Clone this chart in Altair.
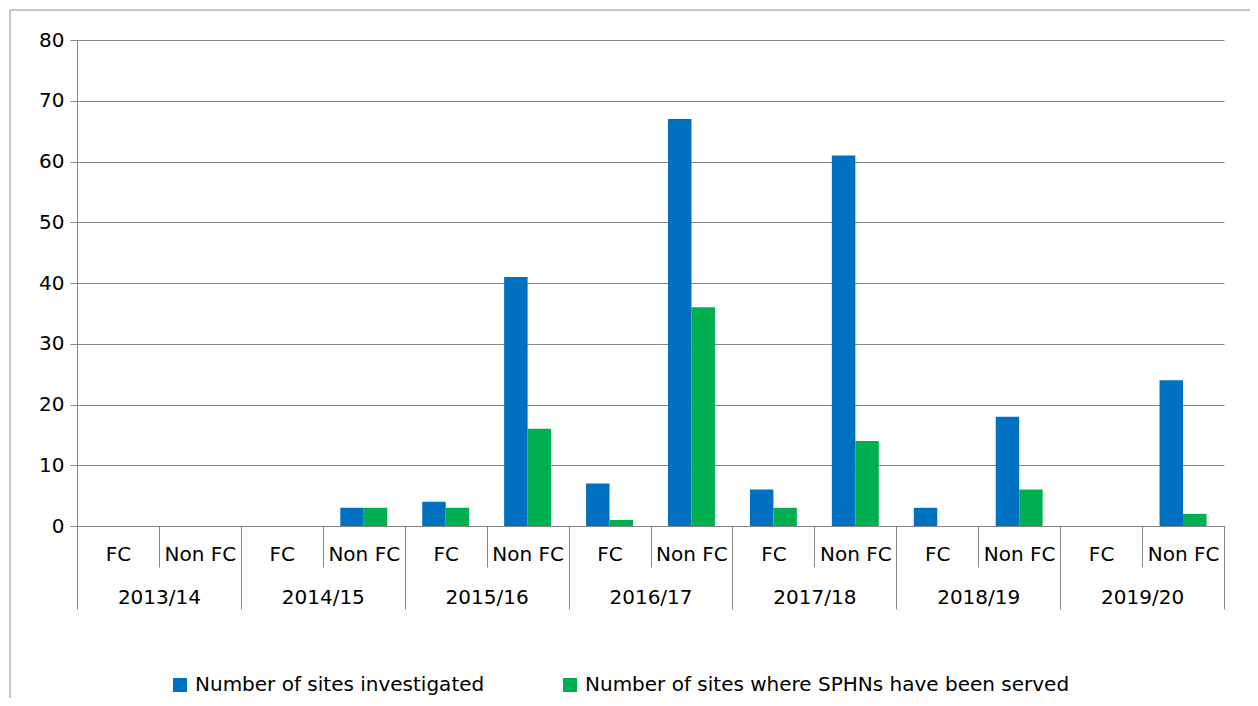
import altair as alt
import pandas as pd

years = ["2013/14", "2014/15", "2015/16", "2016/17", "2017/18", "2018/19", "2019/20"]
subs = ["FC", "Non FC"]
series = ["Number of sites investigated", "Number of sites where SPHNs have been served"]
investigated = [0, 0, 0, 3, 4, 41, 7, 67, 6, 61, 3, 18, 0, 24]
served = [0, 0, 0, 3, 3, 16, 1, 36, 3, 14, 0, 6, 0, 2]
colors = ["#0070C0", "#00B050"]
y_ticks = [0, 10, 20, 30, 40, 50, 60, 70, 80]

rows = []
keys = []
for i, yr in enumerate(years):
    for j, s in enumerate(subs):
        k = f"{yr}|{s}"
        keys.append(k)
        idx = i * 2 + j
        rows.append({"key": k, "year": yr, "series": series[0], "value": investigated[idx]})
        rows.append({"key": k, "year": yr, "series": series[1], "value": served[idx]})
df = pd.DataFrame(rows)
yrs = pd.DataFrame({"year": years})

FONT = "DejaVu Sans"
GRAY = "#868686"
TXT = "#000000"

border = alt.Chart(pd.DataFrame({"a": [0]})).mark_rect(
    fill="transparent", stroke="#8c8c8c", strokeWidth=1
).encode(x=alt.value(-67), x2=alt.value(1300), y=alt.value(-30), y2=alt.value(800))

bars = alt.Chart(df).mark_bar().encode(
    x=alt.X(
        "key:N", sort=keys,
        scale=alt.Scale(paddingInner=0, paddingOuter=0),
        axis=alt.Axis(
            orient="bottom", title=None, labelExpr="split(datum.label, '|')[1]",
            tickBand="extent", tickSize=41, labelPadding=-23, labelAngle=0,
            domainColor=GRAY, tickColor=GRAY, grid=False, labelOverlap=False,
            labelFontSize=20, labelFont=FONT, labelColor=TXT,
        ),
    ),
    xOffset=alt.XOffset("series:N", sort=series,
                        scale=alt.Scale(paddingOuter=0.745, paddingInner=0)),
    y=alt.Y(
        "value:Q", scale=alt.Scale(domain=[0, 80], nice=False),
        axis=alt.Axis(
            values=y_ticks, title=None, grid=True, gridColor=GRAY,
            domainColor=GRAY, tickColor=GRAY, tickSize=7, labelPadding=6,
            labelFontSize=20, labelFont=FONT, labelColor=TXT,
        ),
    ),
    color=alt.Color(
        "series:N", sort=series,
        scale=alt.Scale(domain=series, range=colors),
        legend=alt.Legend(
            orient="none", legendX=93, legendY=635, direction="horizontal",
            title=None, symbolType="square", symbolSize=196, symbolStrokeWidth=0,
            labelFontSize=20, labelFont=FONT, labelColor=TXT, labelOffset=5,
            columnPadding=75, padding=0, labelLimit=1000,
        ),
    ),
)

yearaxis = alt.Chart(yrs).mark_point(opacity=0).encode(
    x=alt.X(
        "year:N", sort=years,
        scale=alt.Scale(paddingInner=0, paddingOuter=0),
        axis=alt.Axis(
            orient="bottom", title=None, tickBand="extent", tickSize=83,
            labelPadding=-22, labelAngle=0, domain=False, tickColor=GRAY,
            grid=False, labelOverlap=False,
            labelFontSize=20, labelFont=FONT, labelColor=TXT,
        ),
    ),
    y=alt.value(0),
)

chart = alt.layer(border, bars, yearaxis).resolve_scale(x="independent").properties(
    width=1147, height=486,
    padding={"left": 69, "top": 32, "right": 26, "bottom": 172},
    autosize=alt.AutoSizeParams(type="none"),
).configure_view(stroke=None)

chart.save("out.html", embed_options={"renderer": "svg", "actions": False})
